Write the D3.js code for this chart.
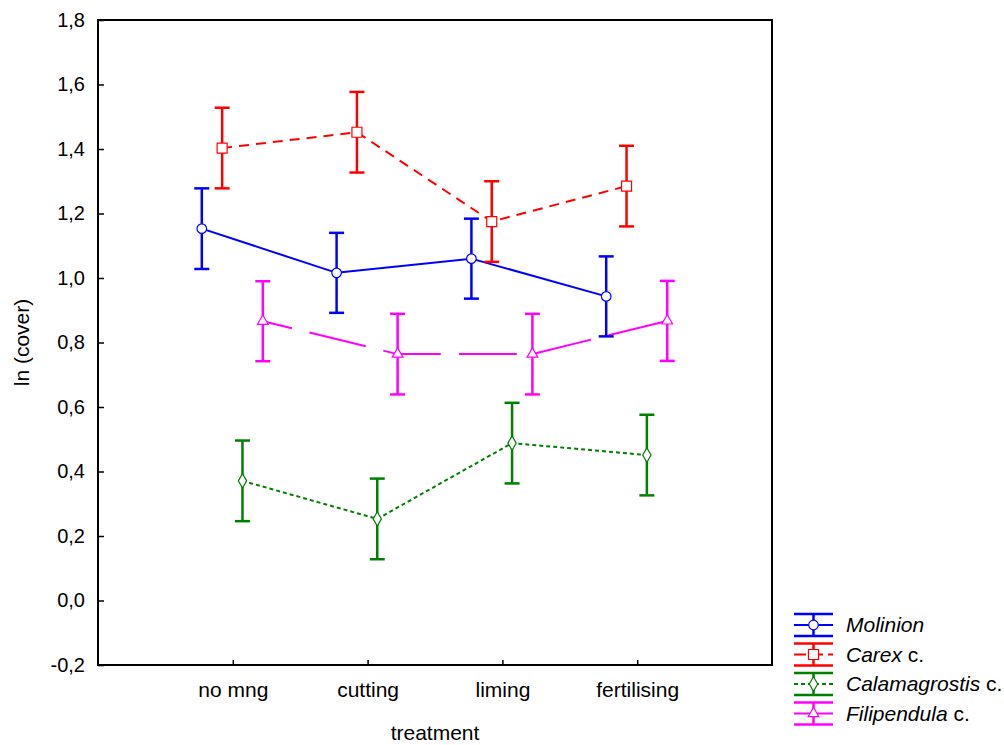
<!DOCTYPE html>
<html>
<head>
<meta charset="utf-8">
<script src="https://cdn.jsdelivr.net/npm/d3@7/dist/d3.min.js"></script>
<style>
  html, body { margin: 0; padding: 0; background: #fff; }
  svg { display: block; font-family: "Liberation Sans", Arial, sans-serif; }
</style>
</head>
<body>
<svg id="chart" width="1004" height="745"></svg>
<script>
// ---------------- data ----------------
const categories = ["no mng", "cutting", "liming", "fertilising"];
const seriesNames = ["Molinion", "Carex", "Calamagrostis", "Filipendula"];
const seriesSuffix = ["", " c.", " c.", " c."];
const molinionMean = [1.153, 1.016, 1.060, 0.943];
const carexMean = [1.403, 1.452, 1.175, 1.285];
const calamagrostisMean = [0.371, 0.253, 0.488, 0.451];
const filipendulaMean = [0.866, 0.764, 0.764, 0.867];
const molinionErr = [0.125, 0.124, 0.124, 0.124];
const carexErr = [0.125, 0.125, 0.125, 0.125];
const calamagrostisErr = [0.125, 0.125, 0.125, 0.125];
const filipendulaErr = [0.124, 0.125, 0.125, 0.124];
const yTickValues = [-0.2, 0.0, 0.2, 0.4, 0.6, 0.8, 1.0, 1.2, 1.4, 1.6, 1.8];
const yTickLabels = ["-0,2", "0,0", "0,2", "0,4", "0,6", "0,8", "1,0", "1,2", "1,4", "1,6", "1,8"];
const xTitle = "treatment";
const yTitle = "ln (cover)";

// ---------------- styles ----------------
const colors = ["#0000ff", "#ff0000", "#008000", "#ff00ff"];
const dashes = [null, "10,7", "4,3", "58,18"];
const dashOffsets = [0, 0, 0, 28];
const legendDashes = [null, "12,5", "4,3", null];
const symbols = [d3.symbolCircle, d3.symbolSquare, d3.symbolDiamond, d3.symbolTriangle];
const symSizes = [72, 100, 60, 50];

const means = [molinionMean, carexMean, calamagrostisMean, filipendulaMean];
const errs = [molinionErr, carexErr, calamagrostisErr, filipendulaErr];

const series = seriesNames.map((name, i) => ({
  name, idx: i,
  values: categories.map((c, j) => ({ cat: c, mean: means[i][j], err: errs[i][j] }))
}));

// ---------------- layout ----------------
const mLeft = 98, mRight = 772, mTop = 20, mBottom = 665;
const svg = d3.select("#chart");
const FS = 20;

const x = d3.scalePoint().domain(categories).range([mLeft, mRight]).padding(1);
const dodge = d3.scalePoint().domain(seriesNames).range([-31, 30]);
const y = d3.scaleLinear().domain([-0.2, 1.8]).range([mBottom, mTop]);

// axes
const yAxis = d3.axisLeft(y)
  .tickValues(yTickValues)
  .tickFormat((d, i) => yTickLabels[i])
  .tickSize(-6).tickPadding(13);
const gy = svg.append("g").attr("transform", `translate(${mLeft},0)`).call(yAxis);
gy.select(".domain").remove();
gy.selectAll(".tick line").attr("stroke", "#000").attr("stroke-width", 1.5);
gy.selectAll(".tick text").attr("font-size", FS).attr("fill", "#000")
  .attr("font-family", "'Liberation Sans', Arial, sans-serif");

const xAxis = d3.axisBottom(x).tickSize(-5).tickPadding(17);
const gx = svg.append("g").attr("transform", `translate(0,${mBottom})`).call(xAxis);
gx.select(".domain").remove();
gx.selectAll(".tick line").attr("stroke", "#000").attr("stroke-width", 1.5);
gx.selectAll(".tick text").attr("font-size", FS + 1).attr("fill", "#000")
  .attr("font-family", "'Liberation Sans', Arial, sans-serif");

// frame
svg.append("rect")
  .attr("x", mLeft).attr("y", mTop)
  .attr("width", mRight - mLeft).attr("height", mBottom - mTop)
  .attr("fill", "none").attr("stroke", "#000").attr("stroke-width", 2);

// titles
svg.append("text")
  .attr("x", (mLeft + mRight) / 2).attr("y", 740)
  .attr("text-anchor", "middle").attr("font-size", FS + 1)
  .text(xTitle);
svg.append("text")
  .attr("transform", `translate(29,${(mTop + mBottom) / 2}) rotate(-90)`)
  .attr("text-anchor", "middle").attr("font-size", FS + 1)
  .text(yTitle);

// ---------------- series ----------------
const px = (s, d) => x(d.cat) + dodge(s.name);
const line = d3.line();

const gS = svg.append("g");
// lines
series.forEach(s => {
  gS.append("path")
    .attr("d", line(s.values.map(d => [px(s, d), y(d.mean)])))
    .attr("fill", "none")
    .attr("stroke", colors[s.idx])
    .attr("stroke-width", 2)
    .attr("stroke-dasharray", dashes[s.idx])
    .attr("stroke-dashoffset", dashOffsets[s.idx]);
});
// error bars
const capW = 7.5;
series.forEach(s => {
  const g = gS.append("g").attr("stroke", colors[s.idx]).attr("stroke-width", 2.5);
  s.values.forEach(d => {
    const cx = px(s, d);
    g.append("line").attr("x1", cx).attr("x2", cx)
      .attr("y1", y(d.mean + d.err)).attr("y2", y(d.mean - d.err));
    g.append("line").attr("x1", cx - capW).attr("x2", cx + capW)
      .attr("y1", y(d.mean + d.err)).attr("y2", y(d.mean + d.err));
    g.append("line").attr("x1", cx - capW).attr("x2", cx + capW)
      .attr("y1", y(d.mean - d.err)).attr("y2", y(d.mean - d.err));
  });
});
// markers
series.forEach(s => {
  const sym = d3.symbol().type(symbols[s.idx]).size(symSizes[s.idx]);
  gS.append("g").selectAll("path").data(s.values).join("path")
    .attr("transform", d => `translate(${px(s, d)},${y(d.mean)})`)
    .attr("d", sym())
    .attr("fill", "#fff")
    .attr("stroke", colors[s.idx])
    .attr("stroke-width", 1.2);
});

// ---------------- legend ----------------
const lgX0 = 794, lgX1 = 833, lgCx = (lgX0 + lgX1) / 2, lgY0 = 625, lgStep = 29.5;
const lg = svg.append("g");
series.forEach((s, i) => {
  const cy = lgY0 + i * lgStep;
  const g = lg.append("g");
  const c = colors[i];
  g.append("line").attr("x1", lgX0).attr("x2", lgX1).attr("y1", cy - 11).attr("y2", cy - 11)
    .attr("stroke", c).attr("stroke-width", 2.5);
  g.append("line").attr("x1", lgX0).attr("x2", lgX1).attr("y1", cy + 11).attr("y2", cy + 11)
    .attr("stroke", c).attr("stroke-width", 2.5);
  g.append("line").attr("x1", lgCx).attr("x2", lgCx).attr("y1", cy - 11).attr("y2", cy + 11)
    .attr("stroke", c).attr("stroke-width", 2.5);
  g.append("line").attr("x1", lgX0).attr("x2", lgX1).attr("y1", cy).attr("y2", cy)
    .attr("stroke", c).attr("stroke-width", 2)
    .attr("stroke-dasharray", legendDashes[i]);
  g.append("path")
    .attr("transform", `translate(${lgCx},${cy})`)
    .attr("d", d3.symbol().type(symbols[i]).size(symSizes[i])())
    .attr("fill", "#fff").attr("stroke", c).attr("stroke-width", 1.2);
  const t = g.append("text").attr("x", 846).attr("y", cy + 7).attr("font-size", FS + 1);
  t.append("tspan").attr("font-style", "italic").text(s.name);
  if (seriesSuffix[i]) t.append("tspan").text(seriesSuffix[i]);
});
</script>
</body>
</html>
